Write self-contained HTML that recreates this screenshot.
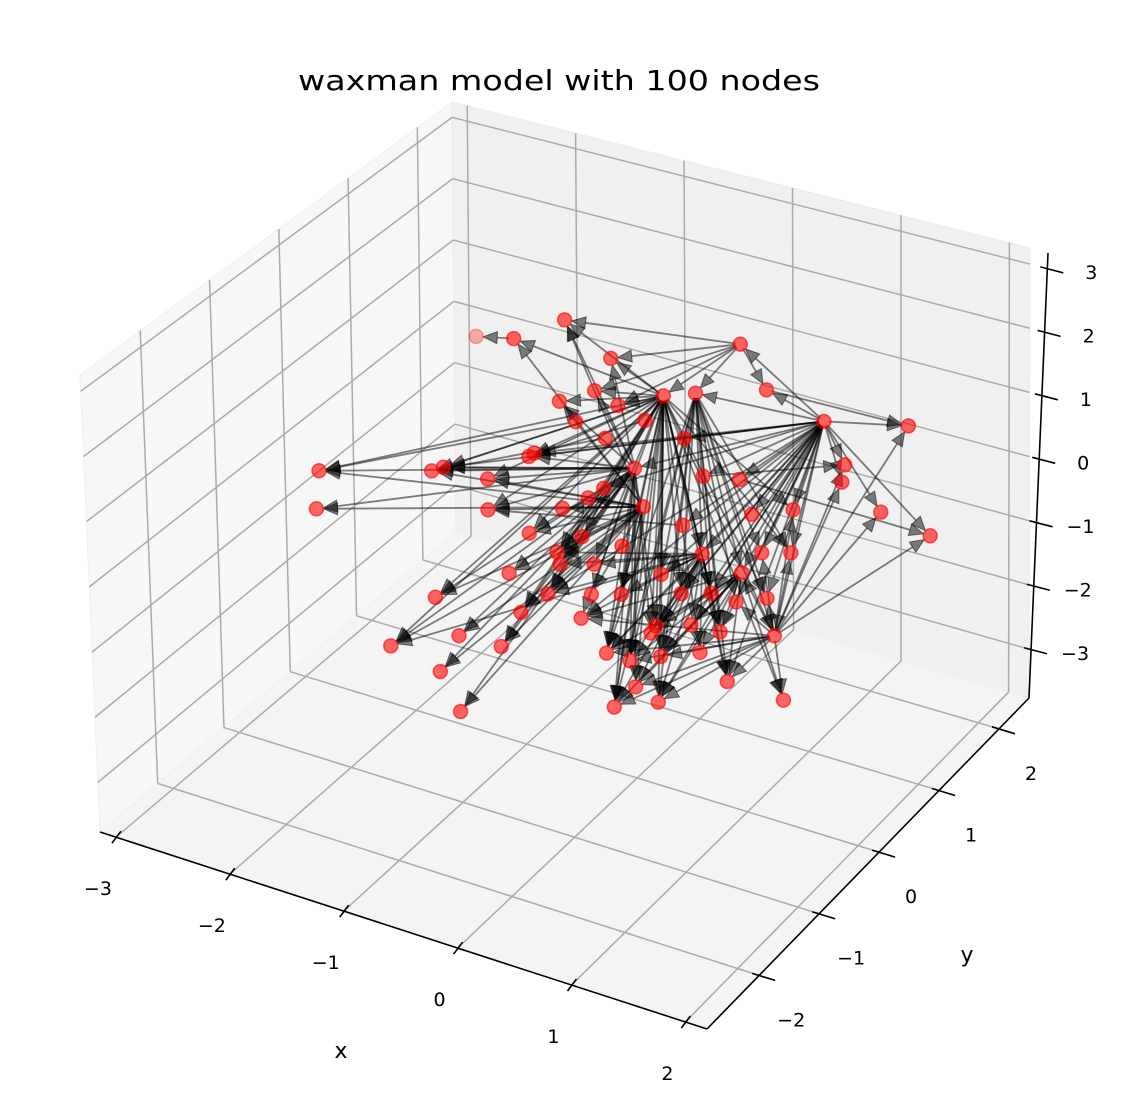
<!DOCTYPE html>
<html><head><meta charset="utf-8">
<style>
html,body{margin:0;padding:0;background:#fff;}
svg{display:block;font-family:"DejaVu Sans","Liberation Sans",sans-serif;}
</style></head>
<body>
<svg id="chart" width="1128" height="1118" viewBox="0 0 1128 1118" xmlns="http://www.w3.org/2000/svg">
<text x="559" y="90" font-size="28" text-anchor="middle" textLength="522" lengthAdjust="spacingAndGlyphs">waxman model with 100 nodes</text>
<g id="panes"></g>
<g id="grid"></g>
<g id="axes"></g>
<g id="edges"></g>
<g id="nodes"></g>
<text x="341" y="1058" font-size="22" text-anchor="middle">x</text>
<text x="967" y="962" font-size="22" text-anchor="middle">y</text>
</svg>
<script>
// ---- node data (1-based ids in edge arrays) ----
const nodeX = [-1.09,-1.62,-1.36,0.19,-0.64,0.53,-0.63,-0.83,0.06,-0.42,-0.15,1.04,1.64,-2.18,-1.44,-1.37,-1.04,-0.84,-0.82,-2.06,-0.93,1.33,1.37,0.66,1.74,2.16,1.13,1.26,-0.57,-0.32,-0.21,-0.57,-0.26,-0.03,-0.98,-0.24,-0.36,0.06,-0.69,-1.11,-0.38,-0.70,-0.43,0.35,0.53,0.72,0.57,0.85,0.65,1.25,1.69,1.42,1.25,1.04,0.82,0.59,0.10,-0.23,-0.30,-0.09,0.43,0.66,0.99,0.45,0.25,0.85,0.65,0.86,-0.39,0.14,-0.65,0.09,-0.44,0.40,0.58,1.06,1.05,0.97,0.05,-0.19];
const nodeY = [0.83,0.38,0.51,1.36,0.77,1.18,0.50,0.30,0.88,0.50,0.74,1.20,1.50,-1.06,-0.62,-0.56,-0.45,-0.16,-0.11,-1.31,-0.64,1.02,0.90,0.52,0.87,0.92,0.54,0.27,-0.63,-0.64,-0.44,-0.95,-0.70,-0.57,-1.38,-0.93,-1.14,-0.94,-1.53,-1.85,-1.42,-1.81,-1.98,-1.06,-1.01,-0.86,-1.34,-1.14,-1.14,-0.75,-0.64,-0.29,-0.10,-0.48,-0.55,-0.70,-0.02,-0.06,-0.18,0.18,0.02,-0.08,-0.04,-0.36,-0.64,-0.28,-0.40,0.36,0.25,0.56,0.24,-0.34,-0.34,0.40,-0.76,0.16,-0.24,-0.68,-0.76,0.52];
const nodeZ = [2.10,1.97,1.95,1.86,1.76,1.46,1.49,1.40,1.45,1.36,1.43,1.19,1.13,0.80,0.80,0.84,0.73,0.93,0.95,0.48,0.47,0.81,0.67,0.71,0.41,0.20,0.45,0.09,0.28,0.12,0.24,-0.06,0.02,0.02,-0.27,-0.23,-0.39,-0.44,-0.58,-0.68,-0.68,-0.89,-1.21,-0.72,-0.79,-0.76,-1.18,-1.14,-1.01,-0.97,-1.13,-0.60,-0.28,-0.56,-0.50,-0.50,0.49,0.65,0.57,0.82,0.33,0.09,-0.07,-0.08,-0.24,-0.24,-0.24,0.41,1.08,1.06,1.22,0.16,0.48,0.74,-0.56,0.09,-0.31,-0.73,-0.24,1.22];
// ---- edges: hubs and their targets ----
const hub11Targets = [1,3,5,7,8,10,14,15,16,17,18,21,29,30,31,33,34,35,36,37,38,40,41,44,45,46,47,48,49,50,51,52,53,54,56,62,64,65,66,67,75,78,27,28];
const hub12Targets = [4,6,9,13,16,18,22,23,24,25,26,27,28,44,46,48,50,52,53,54,55,56,58,60,61,62,63,64,66,67,68,74,76,77,36,38,70,19];
const hub57Targets = [14,15,17,20,21,29,30,32,35,36,37,39,40,41,42,43,44,45,47,59,73,79,65,3,1,8];
const hub52Targets = [13,22,23,25,26,27,28,51,50,48,47,46,44,45,38,53,63,76,77,49];
const hub4Targets = [1,5,6,9,10,7,11];
const hub60Targets = [14,15,16,17,18,20,21,29,30,32,33,35,36,37,39,40,41,42,43,44,45,47,49,56,65,75,79,5,7,8,1];
const hub62Targets = [44,45,46,47,48,49,50,54,55,56,64,65,66,67,75,78,36,38,33,34,30];
const hub63Targets = [47,48,49,50,51,44,45,46,56,75,78,55,54,38];
const hub9Targets = [44,45,46,47,48,50,52,53,54,62,63,64,66,67,76,77,28];
const extraFrom = [3,6,24,60,69,71,80,74,61,62];
const extraTo   = [2,13,26,16,15,14,18,22,21,40];
// ---- axis ranges & ticks ----
const xLim = [-3.14, 2.19], yLim = [-2.87, 2.5], zLim = [-3.76, 3.25];
const xTicks = [-3,-2,-1,0,1,2];
const yTicks = [-2,-1,0,1,2];
const zTicks = [-3,-2,-1,0,1,2,3];

const NS = "http://www.w3.org/2000/svg";
const C = {
  "000":[100,832],"100":[707,1029],"110":[1029,698],"010":[456,532],
  "001":[80,375],"101":[700,552],"111":[1030,248],"011":[452,102]
};
function P(x,y,z){
  const u=(x-xLim[0])/(xLim[1]-xLim[0]), v=(y-yLim[0])/(yLim[1]-yLim[0]), w=(z-zLim[0])/(zLim[1]-zLim[0]);
  let sx=0, sy=0;
  for(const a of [0,1])for(const b of [0,1])for(const c of [0,1]){
    const wt=(a?u:1-u)*(b?v:1-v)*(c?w:1-w);
    const p=C[""+a+b+c]; sx+=wt*p[0]; sy+=wt*p[1];
  }
  return [sx,sy];
}
function mk(tag, attrs, parent){
  const e=document.createElementNS(NS,tag);
  for(const k in attrs) e.setAttribute(k, attrs[k]);
  parent.appendChild(e); return e;
}
const panes=document.getElementById('panes'), grid=document.getElementById('grid'), axes=document.getElementById('axes');
function poly(pts){return pts.map(p=>p[0].toFixed(1)+","+p[1].toFixed(1)).join(" ");}
const [x0,x1]=xLim,[y0,y1]=yLim,[z0,z1]=zLim;
let e;
e=mk('polygon',{points:poly([P(x0,y0,z0),P(x0,y1,z0),P(x0,y1,z1),P(x0,y0,z1)]),fill:'#f7f7f7',stroke:'#f0f0f0'},panes);
 
e=mk('polygon',{points:poly([P(x0,y1,z0),P(x1,y1,z0),P(x1,y1,z1),P(x0,y1,z1)]),fill:'#f0f0f0',stroke:'#ebebeb'},panes);
 
e=mk('polygon',{points:poly([P(x0,y0,z0),P(x1,y0,z0),P(x1,y1,z0),P(x0,y1,z0)]),fill:'#f4f4f4',stroke:'#efefef'},panes);
 
function gl(a,b,name){
  const l=mk('line',{x1:a[0],y1:a[1],x2:b[0],y2:b[1],stroke:'#aaaaaa','stroke-width':1.5},grid);
   
}
zTicks.forEach(z=>{gl(P(x0,y0,z),P(x0,y1,z),'grid-z');gl(P(x0,y1,z),P(x1,y1,z),'grid-z');});
yTicks.forEach(y=>{gl(P(x0,y,z0),P(x0,y,z1),'grid-y');gl(P(x0,y,z0),P(x1,y,z0),'grid-y');});
xTicks.forEach(x=>{gl(P(x,y1,z0),P(x,y1,z1),'grid-x');gl(P(x,y0,z0),P(x,y1,z0),'grid-x');});
function al(a,b,name){
  const l=mk('line',{x1:a[0],y1:a[1],x2:b[0],y2:b[1],stroke:'#000','stroke-width':1.6},axes);
   
}
al(P(x0,y0,z0),P(x1,y0,z0),'x-axis-line');
al(P(x1,y0,z0),P(x1,y1,z0),'y-axis-line');
const zb=P(x1,y1,z0); const zt=[1048,253];
al(zb,zt,'z-axis-line');
function zAxisPt(z){const t=(z-z0)/(z1-z0);return [zb[0]+(zt[0]-zb[0])*t, zb[1]+(zt[1]-zb[1])*t];}
function txt(s,x,y,name){
  const t=mk('text',{x:x,y:y,'font-size':19,'text-anchor':'middle','dominant-baseline':'central'},axes);
  t.textContent=s;  
}
function lab(v){return v<0?"\u2212"+Math.abs(v):""+v;}
xTicks.forEach(x=>{const p=P(x,y0,z0);al([p[0]-4,p[1]+6],[p[0]+5,p[1]-6],'x-tick');txt(lab(x),p[0]-18,p[1]+52,'x-tick-label');});
yTicks.forEach(y=>{const p=P(x1,y,z0);al([p[0]-7,p[1]-2],[p[0]+16,p[1]+5],'y-tick');txt(lab(y),p[0]+32,p[1]+45,'y-tick-label');});
zTicks.forEach(z=>{const p=zAxisPt(z);al([p[0]-7,p[1]-2],[p[0]+16,p[1]+4],'z-tick');txt(lab(z),p[0]+44,p[1]+4,'z-tick-label');});

// ---- edges ----
const edgesG=document.getElementById('edges');
const pairs=[];
hub11Targets.forEach(t=>pairs.push([11,t]));
hub12Targets.forEach(t=>pairs.push([12,t]));
hub57Targets.forEach(t=>pairs.push([57,t]));
hub52Targets.forEach(t=>pairs.push([52,t]));
hub4Targets.forEach(t=>pairs.push([4,t]));
hub60Targets.forEach(t=>pairs.push([60,t]));
hub62Targets.forEach(t=>pairs.push([62,t]));
hub63Targets.forEach(t=>pairs.push([63,t]));
hub9Targets.forEach(t=>pairs.push([9,t]));
extraFrom.forEach((f,i)=>pairs.push([f,extraTo[i]]));
function np(id){return P(nodeX[id-1],nodeY[id-1],nodeZ[id-1]);}
pairs.forEach(([s,t])=>{
  const a=np(s), b=np(t);
  const dx=b[0]-a[0], dy=b[1]-a[1], L=Math.hypot(dx,dy); if(L<20) return;
  const ux=dx/L, uy=dy/L;
  const tip=[b[0]-ux*7,b[1]-uy*7], base=[tip[0]-ux*14,tip[1]-uy*14];
  const ln=mk('line',{x1:a[0]+ux*5,y1:a[1]+uy*5,x2:base[0],y2:base[1],stroke:'rgba(0,0,0,0.5)','stroke-width':1.8},edgesG);
   
  const hd=mk('polygon',{points:poly([tip,[base[0]-uy*6,base[1]+ux*6],[base[0]+uy*6,base[1]-ux*6]]),fill:'rgba(0,0,0,0.5)',stroke:'rgba(0,0,0,0.5)','stroke-width':1},edgesG);
   
});
// ---- nodes ----
const nodesG=document.getElementById('nodes');
nodeX.forEach((x,i)=>{
  const p=P(x,nodeY[i],nodeZ[i]);
  const far=(i===1);
  const c=mk('circle',{cx:p[0].toFixed(1),cy:p[1].toFixed(1),r:7,fill:far?'rgba(255,0,0,0.3)':'rgba(255,0,0,0.6)',stroke:far?'rgba(255,0,0,0.3)':'rgba(255,0,0,0.6)','stroke-width':1.5},nodesG);
   
});
</script>
</body></html>
